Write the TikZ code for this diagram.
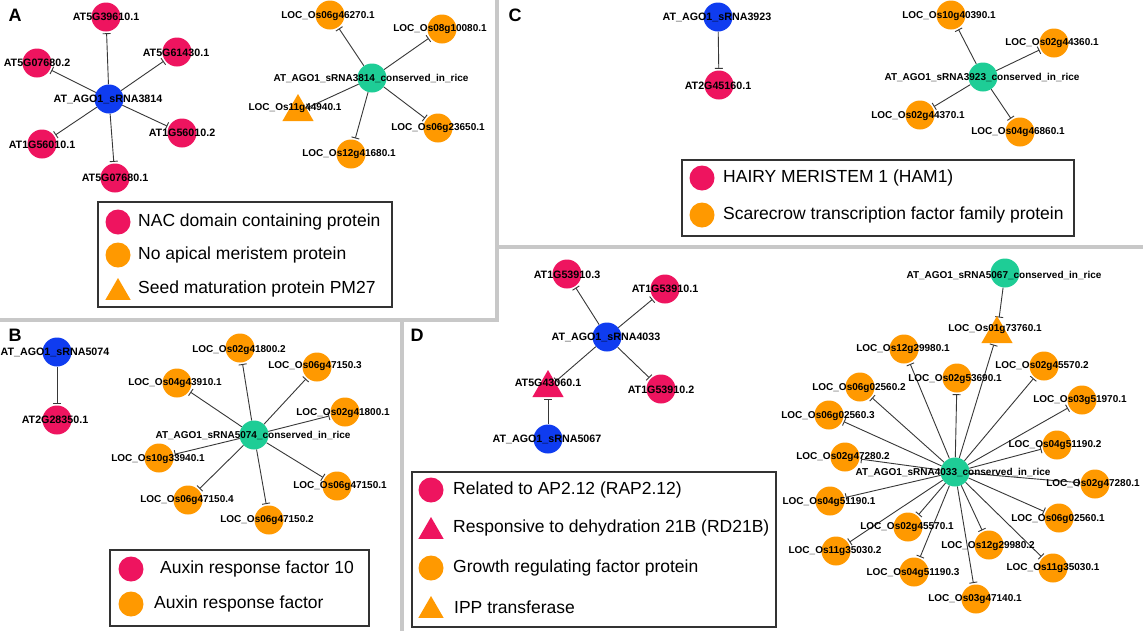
\documentclass[tikz,border=0pt]{standalone}
\usepackage{fontspec}
\setmainfont{Liberation Sans}
\usetikzlibrary{arrows.meta,shapes.geometric}
\pgfdeclarelayer{bg}
\pgfdeclarelayer{edges}
\pgfsetlayers{bg,edges,main}
\definecolor{pinkc}{RGB}{238,20,95}
\definecolor{bluec}{RGB}{15,60,240}
\definecolor{orangec}{RGB}{255,153,0}
\definecolor{greenc}{RGB}{30,205,150}
\definecolor{sepc}{RGB}{200,200,200}
\definecolor{edgec}{RGB}{55,55,55}
\tikzset{
  nd/.style={circle,minimum size=29pt,inner sep=0pt,draw=none},
  nblue/.style={nd,fill=bluec},
  npink/.style={nd,fill=pinkc},
  norange/.style={nd,fill=orangec},
  ngreen/.style={nd,fill=greenc},
  tri/.style={regular polygon,regular polygon sides=3,minimum size=36pt,inner sep=0pt,draw=none},
  tpink/.style={tri,fill=pinkc},
  torange/.style={tri,fill=orangec},
  lab/.style={font=\bfseries\fontsize{10}{12}\selectfont,inner sep=0pt,text=black},
  labat/.style={font=\bfseries\fontsize{10.7}{12}\selectfont,inner sep=0pt,text=black},
  inh/.style={draw=edgec,line width=0.9pt,-{Bar[width=8pt,line width=0.9pt]},shorten >=1.5pt},
  sepline/.style={draw=sepc,line width=4pt},
  legbox/.style={draw=black!80,line width=1.2pt},
  legtxt/.style={anchor=west,font=\fontsize{17.5}{20}\selectfont,inner sep=0pt},
  lcirc/.style={minimum size=25pt},
  ltri/.style={minimum size=29pt},
  panel/.style={font=\bfseries\fontsize{18}{20}\selectfont,inner sep=0pt}
}
\newcommand{\gn}[5]{\node[#2] (#1) at (#3) {}; \node[lab] (#1l) at (#4) {#5};}
\newcommand{\gat}[5]{\node[#2] (#1) at (#3) {}; \node[labat] (#1l) at (#4) {#5};}
\begin{document}
\begin{tikzpicture}[x=1pt,y=-1pt]
\useasboundingbox (0,0) rectangle (1143,630);
\begin{pgfonlayer}{bg}
\fill[white] (0,0) rectangle (1143,630);
\end{pgfonlayer}
% separators
\draw[sepline] (497,-2) -- (497,320);
\draw[sepline] (-2,320) -- (499,320);
\draw[sepline] (402,318) -- (402,632);
\draw[sepline] (495,247) -- (1145,247);
% panel letters
\node[panel] (pA) at (15,15) {A};
\node[panel] (pB) at (15,335) {B};
\node[panel] (pC) at (515,15) {C};
\node[panel] (pD) at (417,335) {D};
% ---------- Panel A
\gat{a0}{nblue}{109,99}{108,99}{AT\_AGO1\_sRNA3814}
\gat{a1}{npink}{106,17}{106,17}{AT5G39610.1}
\gat{a2}{npink}{177,52}{176,53}{AT5G61430.1}
\gat{a3}{npink}{37,63}{37,63}{AT5G07680.2}
\gat{a4}{npink}{42,144}{42,145}{AT1G56010.1}
\gat{a5}{npink}{182,133}{182,133}{AT1G56010.2}
\gat{a6}{npink}{115,178}{115,178}{AT5G07680.1}
\gn{g1}{ngreen}{372,78}{371,78}{AT\_AGO1\_sRNA3814\_conserved\_in\_rice}
\gn{b1}{norange}{330,15}{328,16}{LOC\_Os06g46270.1}
\gn{b2}{norange}{442,29}{440,29}{LOC\_Os08g10080.1}
\gn{b3}{torange}{298,112}{295,108}{LOC\_Os11g44940.1}
\gn{b4}{norange}{438,128}{438,128}{LOC\_Os06g23650.1}
\gn{b5}{norange}{351,154}{349,154}{LOC\_Os12g41680.1}
\begin{pgfonlayer}{edges}
\foreach \t in {a1,a2,a3,a4,a5,a6} \draw[inh] (a0) -- (\t);
\foreach \t in {b1,b2,b3,b4,b5} \draw[inh] (g1) -- (\t);
\end{pgfonlayer}
\draw[legbox] (98,202) rectangle (392,307);
\node[npink,lcirc] (la1) at (118,222) {};
\node[legtxt] (la1t) at (138,222) {NAC domain containing protein};
\node[norange,lcirc] (la2) at (118,255) {};
\node[legtxt] (la2t) at (138,255) {No apical meristem protein};
\node[torange,ltri] (la3) at (118,292.5) {};
\node[legtxt] (la3t) at (138,289) {Seed maturation protein PM27};
% ---------- Panel C
\gat{c0}{nblue}{718,17}{717,17}{AT\_AGO1\_sRNA3923}
\gat{c1}{npink}{719,85}{718,86}{AT2G45160.1}
\gn{g2}{ngreen}{983,77}{982,77}{AT\_AGO1\_sRNA3923\_conserved\_in\_rice}
\gn{c2}{norange}{951,15}{949,16}{LOC\_Os10g40390.1}
\gn{c3}{norange}{1054,43}{1052,43}{LOC\_Os02g44360.1}
\gn{c4}{norange}{920,115}{918,116}{LOC\_Os02g44370.1}
\gn{c5}{norange}{1020,132}{1018,132}{LOC\_Os04g46860.1}
\begin{pgfonlayer}{edges}
\draw[inh] (c0) -- (c1);
\foreach \t in {c2,c3,c4,c5} \draw[inh] (g2) -- (\t);
\end{pgfonlayer}
\draw[legbox] (682,160) rectangle (1074,236);
\node[npink,lcirc] (lc1) at (702,178) {};
\node[legtxt] (lc1t) at (723,178) {HAIRY MERISTEM 1 (HAM1)};
\node[norange,lcirc] (lc2) at (702,215) {};
\node[legtxt] (lc2t) at (723,215) {Scarecrow transcription factor family protein};
% ---------- Panel B
\gat{d0}{nblue}{57,352}{55,352}{AT\_AGO1\_sRNA5074}
\gat{d1}{npink}{57,420}{55,420}{AT2G28350.1}
\gn{g3}{ngreen}{254,435}{253,435}{AT\_AGO1\_sRNA5074\_conserved\_in\_rice}
\gn{e1}{norange}{240,348}{239,350}{LOC\_Os02g41800.2}
\gn{e2}{norange}{317,367}{315,366}{LOC\_Os06g47150.3}
\gn{e3}{norange}{177,383}{175,383}{LOC\_Os04g43910.1}
\gn{e4}{norange}{345,412}{343,413}{LOC\_Os02g41800.1}
\gn{e5}{norange}{159,458}{158,459}{LOC\_Os10g33940.1}
\gn{e6}{norange}{337,486}{340,486}{LOC\_Os06g47150.1}
\gn{e7}{norange}{188,500}{187,500}{LOC\_Os06g47150.4}
\gn{e8}{norange}{269,520}{267,520}{LOC\_Os06g47150.2}
\begin{pgfonlayer}{edges}
\draw[inh] (d0) -- (d1);
\foreach \t in {e1,e2,e3,e4,e5,e6,e7,e8} \draw[inh] (g3) -- (\t);
\end{pgfonlayer}
\draw[legbox] (110,550) rectangle (369,626);
\node[npink,lcirc] (lb1) at (131,569) {};
\node[legtxt] (lb1t) at (160,569) {Auxin response factor 10};
\node[norange,lcirc] (lb2) at (131,604) {};
\node[legtxt] (lb2t) at (154,604) {Auxin response factor};
% ---------- Panel D (left)
\gat{f0}{nblue}{607,337}{606,337}{AT\_AGO1\_sRNA4033}
\gat{f1}{npink}{567,274}{567,275}{AT1G53910.3}
\gat{f2}{npink}{665,289}{665,289}{AT1G53910.1}
\gat{f3}{tpink}{548,388}{548,383}{AT5G43060.1}
\gat{f4}{npink}{661,389}{661,390}{AT1G53910.2}
\gat{f5}{nblue}{548,439}{547,439}{AT\_AGO1\_sRNA5067}
% ---------- Panel D (right)
\gn{g5}{ngreen}{1005,273}{1004,275}{AT\_AGO1\_sRNA5067\_conserved\_in\_rice}
\gn{h0}{torange}{997,334}{995,329}{LOC\_Os01g73760.1}
\gn{g4}{ngreen}{955,472}{953,472}{AT\_AGO1\_sRNA4033\_conserved\_in\_rice}
\gn{h1}{norange}{904,349}{903,349}{LOC\_Os12g29980.1}
\gn{h2}{norange}{1044,366}{1042,366}{LOC\_Os02g45570.2}
\gn{h3}{norange}{957,378}{955,379}{LOC\_Os02g53690.1}
\gn{h4}{norange}{860,387}{859,388}{LOC\_Os06g02560.2}
\gn{h5}{norange}{1082,400}{1080,400}{LOC\_Os03g51970.1}
\gn{h6}{norange}{829,415}{828,416}{LOC\_Os06g02560.3}
\gn{h7}{norange}{1057,445}{1055,445}{LOC\_Os04g51190.2}
\gn{h8}{norange}{845,457}{843,457}{LOC\_Os02g47280.2}
\gn{h9}{norange}{1095,484}{1093,484}{LOC\_Os02g47280.1}
\gn{h10}{norange}{830,501}{829,502}{LOC\_Os04g51190.1}
\gn{h11}{norange}{1059,518}{1058,519}{LOC\_Os06g02560.1}
\gn{h12}{norange}{908,527}{907,527}{LOC\_Os02g45570.1}
\gn{h13}{norange}{989,545}{988,546}{LOC\_Os12g29980.2}
\gn{h14}{norange}{836,551}{835,551}{LOC\_Os11g35030.2}
\gn{h15}{norange}{1053,568}{1053,568}{LOC\_Os11g35030.1}
\gn{h16}{norange}{914,572}{913,573}{LOC\_Os04g51190.3}
\gn{h17}{norange}{976,599}{975,599}{LOC\_Os03g47140.1}
\begin{pgfonlayer}{edges}
\foreach \t in {f1,f2,f3,f4} \draw[inh] (f0) -- (\t);
\draw[inh] (f5) -- (f3);
\draw[inh] (g5) -- (h0);
\foreach \t in {h0,h1,h2,h3,h4,h5,h6,h7,h8,h9,h10,h11,h12,h13,h14,h15,h16,h17} \draw[inh] (g4) -- (\t);
\end{pgfonlayer}
\draw[legbox] (412,472) rectangle (776,627);
\node[npink,lcirc] (ld1) at (431,490) {};
\node[legtxt] (ld1t) at (453,490) {Related to AP2.12 (RAP2.12)};
\node[tpink,ltri] (ld2) at (431,531.5) {};
\node[legtxt] (ld2t) at (453,528) {Responsive to dehydration 21B (RD21B)};
\node[norange,lcirc] (ld3) at (431,568) {};
\node[legtxt] (ld3t) at (453,568) {Growth regulating factor protein};
\node[torange,ltri] (ld4) at (431,610.5) {};
\node[legtxt] (ld4t) at (454,607) {IPP transferase};
\end{tikzpicture}
\end{document}
